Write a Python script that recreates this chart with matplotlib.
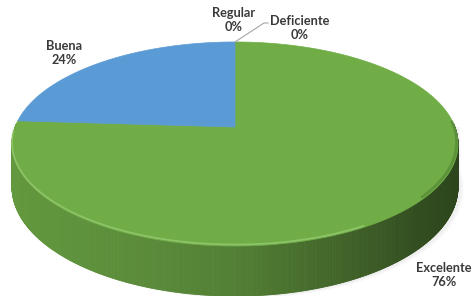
import numpy as np
import matplotlib
matplotlib.use("Agg")
from matplotlib import pyplot as plt
from matplotlib.collections import PolyCollection
from matplotlib.patches import Polygon

# datos
categorias = ["Excelente", "Buena", "Regular", "Deficiente"]
valores = [76, 24, 0, 0]
etiquetas = ["Excelente\n76%", "Buena\n24%", "Regular\n0%", "Deficiente\n0%"]
colores = ["#70AD47", "#5B9BD5", "#A5A5A5", "#FFC000"]

# geometria de la "torta 3D" (pixeles)
cx, cy = 235, 127
A, B, k = 99.2, 219.9, 0.1667
D = 41.7


def proj(u, w, h=0.0):
    s = 1.0 / (1.0 + k * w)
    return cx + B * u * s, cy - A * w * s + h * D * s


def pt(t, h=0.0):
    r = np.radians(t)
    return proj(np.cos(r), np.sin(r), h)


total = sum(valores)
rangos = []
acum = 0
for v in valores:
    a1 = 90 - acum / total * 360
    acum += v
    a2 = 90 - acum / total * 360
    rangos.append((a2, a1))


def color_en(t):
    for (a2, a1), c in zip(rangos, colores):
        tt = a2 + ((t - a2) % 360)
        if a2 <= tt <= a1 and a1 > a2:
            return c
    return colores[0]


fig = plt.figure(figsize=(4.75, 2.96), dpi=100)
ax = fig.add_axes([0, 0, 1, 1])
ax.set_xlim(0, 475)
ax.set_ylim(296, 0)
ax.axis("off")

# sombra suave
for i in range(4):
    ts = np.linspace(180, 360, 100)
    xs = [pt(t, 1)[0] + 3 + i for t in ts]
    ys = [pt(t, 1)[1] + 1 + i * 0.5 for t in ts]
    ax.fill(xs + [pt(0)[0] + 3 + i], ys + [pt(0)[1]], color="gray", alpha=0.03, lw=0)

# lado
ts = np.linspace(178, 362, 500)
polys, cols = [], []
for t1, t2 in zip(ts[:-1], ts[1:]):
    p1, p2 = pt(t1), pt(t2)
    q1, q2 = pt(t1, 1), pt(t2, 1)
    polys.append([p1, p2, q2, q1])
    xm = (p1[0] + p2[0]) / 2
    f = np.interp(xm, [12, 120, 235, 340, 420, 458], [0.88, 0.82, 0.74, 0.58, 0.45, 0.40])
    base = np.array(matplotlib.colors.to_rgb(color_en((t1 + t2) / 2)))
    cols.append(base * f)
ax.add_collection(PolyCollection(polys, facecolors=cols, edgecolors=cols, linewidths=0.6))

# cara superior
for (a2, a1), c in zip(rangos, colores):
    if a1 - a2 <= 0:
        continue
    tt = np.linspace(a1, a2, 300)
    xy = [proj(0, 0)] + [pt(t) for t in tt]
    ax.add_patch(Polygon(xy, closed=True, facecolor=c, edgecolor=c, lw=0.5))

# brillo en el borde frontal
tt = np.linspace(183, 300, 150)
xy = np.array([pt(t) for t in tt])
ax.plot(xy[:, 0], xy[:, 1] - 1.5, color="#9CCF78", lw=1.2, alpha=0.7)
tt = np.linspace(320, 362, 80)
xy = np.array([pt(t) for t in tt])
ax.plot(xy[:, 0] - 1.5, xy[:, 1] - 1.5, color="#4A7A2E", lw=2.0, alpha=0.5)

# etiquetas
estilo = dict(fontsize=9.2, fontweight="bold", color="#3A3A3A", ha="center",
              va="center", family=["Lato", "DejaVu Sans"], linespacing=1.2)
pos = {"Excelente": (444, 275), "Buena": (64, 53), "Regular": (234, 20), "Deficiente": (300, 28)}
for cat, et in zip(categorias, etiquetas):
    ax.text(pos[cat][0], pos[cat][1], et, **estilo)

# linea guia
x0, y0 = pt(90)
ax.plot([x0, 264, 268], [y0, 23, 23], color="#A6A6A6", lw=0.8)

fig.savefig("out.png", dpi=100)
